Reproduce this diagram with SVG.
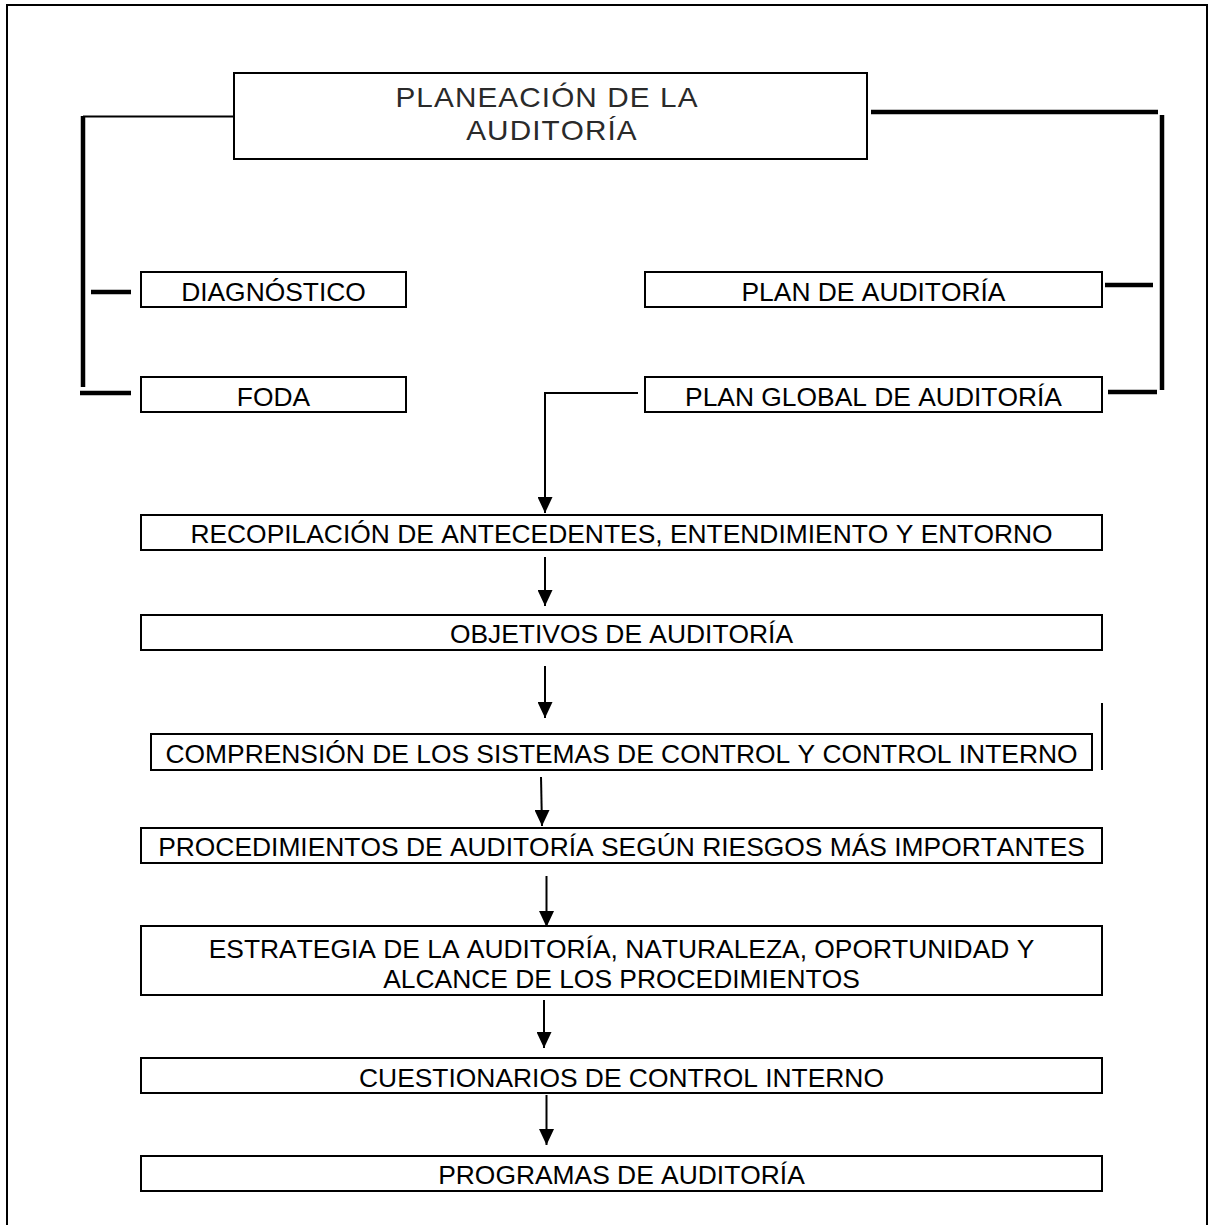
<svg xmlns="http://www.w3.org/2000/svg" width="1209" height="1225" viewBox="0 0 1209 1225">
  <style>
    .box { fill: #fff; stroke: #000; stroke-width: 2; }
    .lbl { font-family: "Liberation Sans", Arial, sans-serif; font-size: 26.4px; font-kerning: none; fill: #000; text-anchor: middle; }
    .title { font-family: "Liberation Sans", Arial, sans-serif; font-size: 27px; font-kerning: none; letter-spacing: 1px; fill: #2a2a2a; text-anchor: middle; }
    .thin { fill: none; stroke: #000; stroke-width: 2; }
    .bar { fill: none; stroke: #000; stroke-width: 4.5; }
    .flow { fill: none; stroke: #000; stroke-width: 2; marker-end: url(#down); }
  </style>
  <defs>
    <!-- solid downward arrowhead, tip at the end of the line -->
    <marker id="down" viewBox="0 0 15 16" refX="7.5" refY="16" markerWidth="15" markerHeight="16" markerUnits="userSpaceOnUse" orient="0">
      <path d="M0,0 L15,0 L7.5,16 Z" fill="#000"/>
    </marker>
  </defs>

  <!-- page frame -->
  <path d="M7,1225 V5 H1207 V1225" fill="none" stroke="#000" stroke-width="2"/>

  <!-- connectors -->
  <g id="connectors">
    <!-- left bracket: title to DIAGNÓSTICO / FODA -->
    <path class="thin" d="M234,116.5 H83"/>
    <path class="bar" d="M83,116 V387"/>
    <path class="bar" d="M91,292 H131"/>
    <path class="bar" d="M80,393 H131"/>
    <!-- right bracket: title to PLAN DE AUDITORÍA / PLAN GLOBAL -->
    <path class="bar" d="M871,112 H1158"/>
    <path class="bar" d="M1162,115 V390"/>
    <path class="bar" d="M1105,285 H1153"/>
    <path class="bar" d="M1108,392 H1157"/>
    <!-- short edge mark beside COMPRENSIÓN -->
    <path class="thin" d="M1102,703 V770"/>
    <!-- main flow -->
    <path class="flow" d="M638,393 H545 V513"/>
    <path class="flow" d="M545,557 V606"/>
    <path class="flow" d="M545,666 V718"/>
    <path class="flow" d="M541,777 L542,826"/>
    <path class="flow" d="M546.5,876 V927"/>
    <path class="flow" d="M544,1000 V1048"/>
    <path class="flow" d="M546.5,1095 V1145"/>
  </g>

  <g id="n-planeacion">
    <rect class="box" x="234" y="73" width="633" height="86"/>
    <text class="title" transform="translate(547,107) scale(1.1,1)">PLANEACIÓN DE LA</text>
    <text class="title" transform="translate(552,140) scale(1.1,1)">AUDITORÍA</text>
  </g>

  <g id="n-diagnostico">
    <rect class="box" x="141" y="272" width="265" height="35"/>
    <text class="lbl" x="273.5" y="301">DIAGNÓSTICO</text>
  </g>

  <g id="n-foda">
    <rect class="box" x="141" y="377" width="265" height="35"/>
    <text class="lbl" x="273.5" y="406">FODA</text>
  </g>

  <g id="n-plan">
    <rect class="box" x="645" y="272" width="457" height="35"/>
    <text class="lbl" x="873.5" y="301">PLAN DE AUDITORÍA</text>
  </g>

  <g id="n-plan-global">
    <rect class="box" x="645" y="377" width="457" height="35"/>
    <text class="lbl" x="873.5" y="406">PLAN GLOBAL DE AUDITORÍA</text>
  </g>

  <g id="n-recopilacion">
    <rect class="box" x="141" y="515" width="961" height="35"/>
    <text class="lbl" x="621.5" y="543">RECOPILACIÓN DE ANTECEDENTES, ENTENDIMIENTO Y ENTORNO</text>
  </g>

  <g id="n-objetivos">
    <rect class="box" x="141" y="615" width="961" height="35"/>
    <text class="lbl" x="621.5" y="643">OBJETIVOS DE AUDITORÍA</text>
  </g>

  <g id="n-comprension">
    <rect class="box" x="151" y="734" width="941" height="36"/>
    <text class="lbl" x="621.5" y="763">COMPRENSIÓN DE LOS SISTEMAS DE CONTROL Y CONTROL INTERNO</text>
  </g>

  <g id="n-procedimientos">
    <rect class="box" x="141" y="828" width="961" height="35"/>
    <text class="lbl" x="621.5" y="856">PROCEDIMIENTOS DE AUDITORÍA SEGÚN RIESGOS MÁS IMPORTANTES</text>
  </g>

  <g id="n-estrategia">
    <rect class="box" x="141" y="926" width="961" height="69"/>
    <text class="lbl" x="621.5" y="958">ESTRATEGIA DE LA AUDITORÍA, NATURALEZA, OPORTUNIDAD Y</text>
    <text class="lbl" x="621.5" y="988">ALCANCE DE LOS PROCEDIMIENTOS</text>
  </g>

  <g id="n-cuestionarios">
    <rect class="box" x="141" y="1058" width="961" height="35"/>
    <text class="lbl" x="621.5" y="1087">CUESTIONARIOS DE CONTROL INTERNO</text>
  </g>

  <g id="n-programas">
    <rect class="box" x="141" y="1156" width="961" height="35"/>
    <text class="lbl" x="621.5" y="1184">PROGRAMAS DE AUDITORÍA</text>
  </g>
</svg>
